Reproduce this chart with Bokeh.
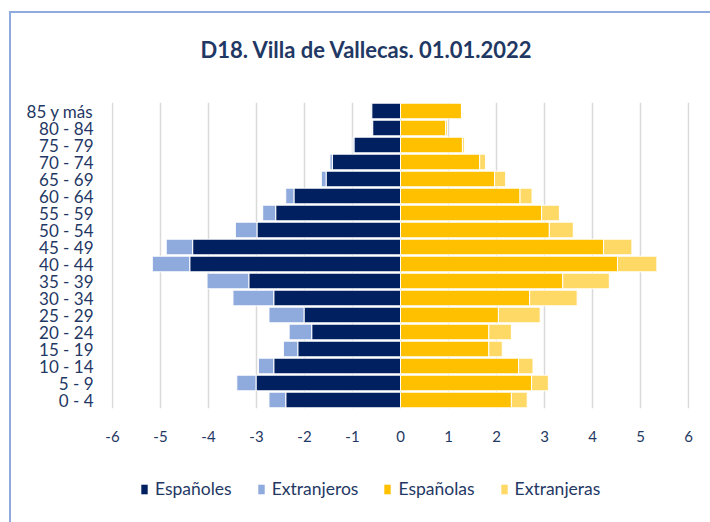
from bokeh.plotting import figure
from bokeh.models import (ColumnDataSource, FactorRange, Range1d, FixedTicker,
                          Legend, LegendItem, Title)
from bokeh.layouts import column
from bokeh.embed import file_html
from bokeh.resources import INLINE

# ---------------- data ----------------
title_text = "D18. Villa de Vallecas. 01.01.2022"
ages = ["0 - 4", "5 - 9", "10 - 14", "15 - 19", "20 - 24", "25 - 29", "30 - 34",
        "35 - 39", "40 - 44", "45 - 49", "50 - 54", "55 - 59", "60 - 64",
        "65 - 69", "70 - 74", "75 - 79", "80 - 84", "85 y más"]
espanoles = [2.39, 3.01, 2.64, 2.14, 1.85, 2.01, 2.64, 3.16, 4.39, 4.33,
             2.99, 2.60, 2.22, 1.55, 1.42, 0.97, 0.58, 0.60]
extranjeros = [0.35, 0.40, 0.32, 0.30, 0.47, 0.73, 0.85, 0.87, 0.78, 0.55,
               0.45, 0.27, 0.17, 0.10, 0.05, 0.02, 0.02, 0.02]
espanolas = [2.31, 2.73, 2.46, 1.84, 1.84, 2.04, 2.69, 3.38, 4.52, 4.23,
             3.10, 2.94, 2.49, 1.96, 1.65, 1.29, 0.94, 1.27]
extranjeras = [0.33, 0.35, 0.30, 0.28, 0.47, 0.87, 0.99, 0.97, 0.82, 0.59,
               0.50, 0.37, 0.25, 0.23, 0.12, 0.04, 0.04, 0.01]
series_names = ["Españoles", "Extranjeros", "Españolas", "Extranjeras"]
x_ticks = [-6, -5, -4, -3, -2, -1, 0, 1, 2, 3, 4, 5, 6]
x_tick_labels = ["-6", "-5", "-4", "-3", "-2", "-1", "0", "1", "2", "3", "4", "5", "6"]

# ---------------- style ----------------
NAVY = "#002060"
LBLUE = "#8FAADC"
GOLD = "#FFC000"
LGOLD = "#FFD966"
TXT = "#1F3864"
FONT = "Lato"
COLORS = [NAVY, LBLUE, GOLD, LGOLD]
COLS = ["m_es", "m_ex", "f_es", "f_ex"]

source = ColumnDataSource(dict(
    age=ages,
    m_es=[-v for v in espanoles],
    m_ex=[-v for v in extranjeros],
    f_es=espanolas,
    f_ex=extranjeras,
))

p = figure(width=699, height=440, output_backend="svg", toolbar_location=None,
           y_range=FactorRange(*ages, range_padding=0),
           x_range=Range1d(-6.02, 6.02),
           min_border_left=100, min_border_right=21,
           min_border_top=89, min_border_bottom=45)

left = p.hbar_stack(["m_es", "m_ex"], y="age", height=0.92, color=[NAVY, LBLUE],
                    line_color="white", line_width=1, source=source)
right = p.hbar_stack(["f_es", "f_ex"], y="age", height=0.92, color=[GOLD, LGOLD],
                     line_color="white", line_width=1, source=source)

# spacer between title and plot area (empty title)
p.add_layout(Title(text=" ", text_font_size="1px", standoff=24), "above")

# title
p.title.text = title_text
p.title.text_font = FONT
p.title.text_font_style = "bold"
p.title.text_font_size = "22px"
p.title.text_color = TXT
p.title.align = "left"
p.title.offset = 89
p.title.standoff = 25

# axes
p.xaxis.ticker = FixedTicker(ticks=x_ticks)
p.xaxis.major_label_overrides = {t: l for t, l in zip(x_ticks, x_tick_labels)}
for ax in (p.xaxis[0], p.yaxis[0]):
    ax.axis_line_color = None
    ax.major_tick_line_color = None
    ax.minor_tick_line_color = None
    ax.major_tick_out = 0
    ax.major_tick_in = 0
    ax.major_label_text_color = TXT
    ax.major_label_text_font = FONT
p.xaxis.major_label_text_font_size = "15px"
p.xaxis.major_label_standoff = 22
p.yaxis.major_label_text_font_size = "17px"
p.yaxis.major_label_standoff = 18

p.xgrid.grid_line_color = "#D9D9D9"
p.xgrid.grid_line_width = 1.5
p.xgrid.ticker = FixedTicker(ticks=x_ticks)
p.ygrid.grid_line_color = None
p.outline_line_color = None

# ---------------- legend strip ----------------
leg = figure(width=699, height=69, output_backend="svg", toolbar_location=None,
             x_range=Range1d(-6.02, 6.02), y_range=FactorRange(*ages),
             min_border_left=0, min_border_right=0, min_border_top=0,
             min_border_bottom=0)
leg.axis.visible = False
leg.grid.grid_line_color = None
leg.outline_line_color = None
leg_renderers = [leg.hbar(y="age", right=col, height=0.9, source=source,
                          fill_color=c, line_color=None, visible=False)
                 for col, c in zip(COLS, COLORS)]
legend = Legend(items=[LegendItem(label=n, renderers=[r])
                       for n, r in zip(series_names, leg_renderers)],
                location=(29, 23), orientation="horizontal")
legend.label_text_font = FONT
legend.label_text_font_size = "17.5px"
legend.label_text_color = TXT
legend.glyph_width = 8
legend.glyph_height = 12
legend.label_standoff = 7
legend.spacing = 25
legend.padding = 0
legend.margin = 0
legend.border_line_color = None
legend.background_fill_alpha = 0
leg.add_layout(legend)

layout = column(p, leg, spacing=0)
layout.styles = {"margin-left": "9px", "margin-top": "11px",
                 "border-left": "2px solid #8FAADC", "border-top": "2px solid #8FAADC"}

open("out.html", "w").write(file_html(layout, INLINE))
